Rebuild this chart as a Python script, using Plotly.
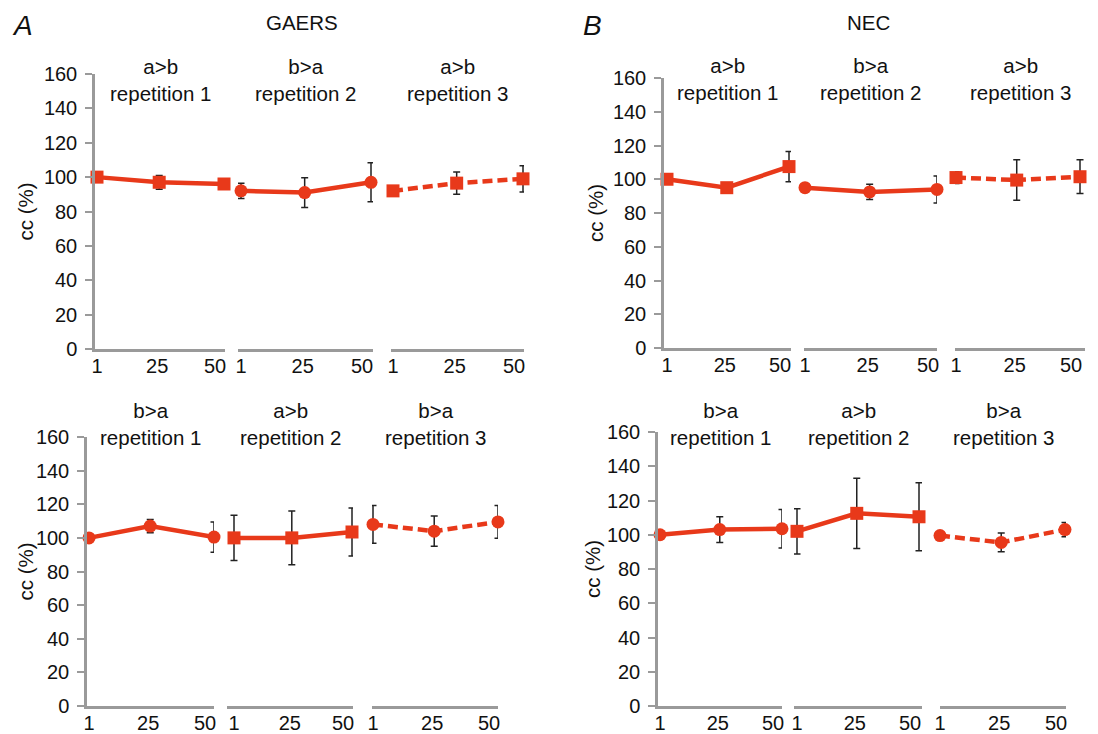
import plotly.graph_objects as go

# ---------------- data ----------------
trials = [1, 25, 50]
trial_labels = ["1", "25", "50"]
y_ticks = [0, 20, 40, 60, 80, 100, 120, 140, 160]

groups = ["GAERS", "NEC"]
top_conditions = ["a>b", "b>a", "a>b"]
bottom_conditions = ["b>a", "a>b", "b>a"]
repetitions = ["repetition 1", "repetition 2", "repetition 3"]

# GAERS, top row (a>b, b>a, a>b)
gaers_top_rep1 = [100, 97, 96]
gaers_top_rep1_err = [0, 4, 2]
gaers_top_rep2 = [92, 91, 97]
gaers_top_rep2_err = [4.5, 8.7, 11.3]
gaers_top_rep3 = [92, 96.5, 99]
gaers_top_rep3_err = [2, 6.5, 7.6]

# NEC, top row (a>b, b>a, a>b)
nec_top_rep1 = [100, 95, 107.5]
nec_top_rep1_err = [0, 2, 9]
nec_top_rep2 = [95, 92.5, 94]
nec_top_rep2_err = [2, 4.5, 8]
nec_top_rep3 = [101, 99.5, 101.5]
nec_top_rep3_err = [3.5, 12, 10]

# GAERS, bottom row (b>a, a>b, b>a)
gaers_bot_rep1 = [100, 107, 100.5]
gaers_bot_rep1_err = [0, 4, 9]
gaers_bot_rep2 = [100, 100, 103.5]
gaers_bot_rep2_err = [13.4, 16, 14.3]
gaers_bot_rep3 = [108, 104, 109.5]
gaers_bot_rep3_err = [11.2, 9, 9.7]

# NEC, bottom row (b>a, a>b, b>a)
nec_bot_rep1 = [100, 103, 103.5]
nec_bot_rep1_err = [0, 7.5, 11.2]
nec_bot_rep2 = [102, 112.5, 110.5]
nec_bot_rep2_err = [13.2, 20.5, 19.8]
nec_bot_rep3 = [99.5, 95.5, 103]
nec_bot_rep3_err = [2, 5.5, 4.2]

# ---------------- layout helpers ----------------
W, H = 1098, 734
RED = "#E8391A"
GRAY = "#9a9a9a"
FONT = "Liberation Sans, Arial, Helvetica, sans-serif"
TXT = "#111"
LABEL_SHIFT_PX = [0, -2, -9]   # category-style label placement under the ticks

panels = [
    dict(  # GAERS top
        series=[(gaers_top_rep1, gaers_top_rep1_err), (gaers_top_rep2, gaers_top_rep2_err),
                (gaers_top_rep3, gaers_top_rep3_err)],
        symbols=["square", "circle", "square"], conds=top_conditions,
        y0=349, y160=74,
        segs=[(95, 225, 97, 224), (238, 373, 241, 371), (391, 524, 393, 523)],
        title_y=80, ylab_x=25),
    dict(  # NEC top
        series=[(nec_top_rep1, nec_top_rep1_err), (nec_top_rep2, nec_top_rep2_err),
                (nec_top_rep3, nec_top_rep3_err)],
        symbols=["square", "circle", "square"], conds=top_conditions,
        y0=348, y160=78,
        segs=[(664, 791, 667, 789), (804, 937, 805, 937), (955, 1085, 956, 1080)],
        title_y=79, ylab_x=595),
    dict(  # GAERS bottom
        series=[(gaers_bot_rep1, gaers_bot_rep1_err), (gaers_bot_rep2, gaers_bot_rep2_err),
                (gaers_bot_rep3, gaers_bot_rep3_err)],
        symbols=["circle", "square", "circle"], conds=bottom_conditions,
        y0=706, y160=437,
        segs=[(87, 214, 89, 214), (227, 353, 234, 352), (372, 498, 373, 498)],
        title_y=424, ylab_x=25),
    dict(  # NEC bottom
        series=[(nec_bot_rep1, nec_bot_rep1_err), (nec_bot_rep2, nec_bot_rep2_err),
                (nec_bot_rep3, nec_bot_rep3_err)],
        symbols=["circle", "square", "circle"], conds=bottom_conditions,
        y0=706, y160=432,
        segs=[(658, 782, 660, 782), (794, 922, 797, 919), (940, 1066, 940, 1065)],
        title_y=424, ylab_x=592),
]

fig = go.Figure()
layout = {}
annotations = []

for p, pan in enumerate(panels):
    yi = p + 1
    yname = "y" if yi == 1 else f"y{yi}"
    ykey = "yaxis" if yi == 1 else f"yaxis{yi}"
    first_x = p * 3 + 1
    layout[ykey] = dict(
        domain=[1 - pan["y0"] / H, 1 - pan["y160"] / H],
        range=[0, 160], tickvals=y_ticks, ticks="outside", ticklen=7,
        tickwidth=2, tickcolor=GRAY, showline=True, linecolor=GRAY, linewidth=2.5,
        showgrid=False, zeroline=False, anchor="x" if first_x == 1 else f"x{first_x}",
        tickfont=dict(size=20, color=TXT, family=FONT), automargin=False,
        ticklabelstandoff=4,
    )
    mid_y = (pan["y0"] + pan["y160"]) / 2
    annotations.append(dict(
        text="cc (%)", x=pan["ylab_x"] / W, y=1 - mid_y / H, xref="paper", yref="paper",
        textangle=-90, showarrow=False, xanchor="center", yanchor="middle",
        font=dict(size=20.5, color=TXT, family=FONT)))
    for s in range(3):
        xi = p * 3 + s + 1
        xname = "x" if xi == 1 else f"x{xi}"
        xkey = "xaxis" if xi == 1 else f"xaxis{xi}"
        L, R, p1, p50 = pan["segs"][s]
        sc = (p50 - p1) / 49.0
        tick_pos = [t + d / sc for t, d in zip(trials, LABEL_SHIFT_PX)]
        layout[xkey] = dict(
            domain=[L / W, R / W], range=[1 - (p1 - L) / sc, 50 + (R - p50) / sc],
            tickvals=tick_pos, ticktext=trial_labels, ticks="", showline=True,
            linecolor=GRAY, linewidth=2.5, showgrid=False, zeroline=False,
            anchor=yname, tickfont=dict(size=20, color=TXT, family=FONT),
            automargin=False, ticklabelstandoff=-3,
        )
        vals, errs = pan["series"][s]
        fig.add_trace(go.Scatter(
            x=trials, y=vals, xaxis=xname, yaxis=yname, mode="lines+markers",
            line=dict(color=RED, width=4.5, dash="10px,5px" if s == 2 else "solid"),
            marker=dict(symbol=pan["symbols"][s], size=13, color=RED, line=dict(width=0)),
            error_y=dict(type="data", array=errs, visible=True, color="#222",
                         thickness=1.5, width=3.5),
            cliponaxis=False, showlegend=False, hoverinfo="x+y",
        ))
        annotations.append(dict(
            text=f"{pan['conds'][s]}<br>{repetitions[s]}", x=((L + R) / 2) / W,
            y=1 - pan["title_y"] / H, xref="paper", yref="paper", showarrow=False,
            xanchor="center", yanchor="middle",
            font=dict(size=20.5, color=TXT, family=FONT)))

annotations += [
    dict(text="<i>A</i>", x=22 / W, y=1 - 26 / H, xref="paper", yref="paper",
         showarrow=False, xanchor="center", yanchor="middle",
         font=dict(size=28, color=TXT, family=FONT)),
    dict(text="<i>B</i>", x=592 / W, y=1 - 26 / H, xref="paper", yref="paper",
         showarrow=False, xanchor="center", yanchor="middle",
         font=dict(size=28, color=TXT, family=FONT)),
    dict(text=groups[0], x=302 / W, y=1 - 22 / H, xref="paper", yref="paper",
         showarrow=False, xanchor="center", yanchor="middle",
         font=dict(size=20.5, color=TXT, family=FONT)),
    dict(text=groups[1], x=868 / W, y=1 - 22 / H, xref="paper", yref="paper",
         showarrow=False, xanchor="center", yanchor="middle",
         font=dict(size=20.5, color=TXT, family=FONT)),
]

fig.update_layout(
    width=W, height=H, margin=dict(l=0, r=0, t=0, b=0),
    paper_bgcolor="white", plot_bgcolor="white",
    font=dict(family=FONT, color=TXT), annotations=annotations, **layout,
)

fig.write_html("out.html", config={"displayModeBar": False},
               post_script="document.body.style.margin='0';")
